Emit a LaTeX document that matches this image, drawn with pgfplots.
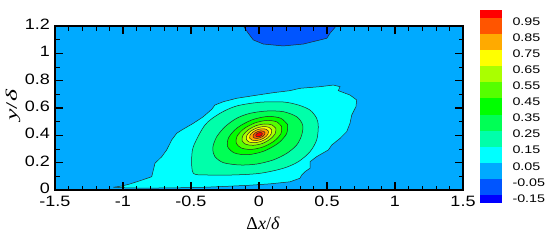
\documentclass[border=0pt]{standalone}
\usepackage{fontspec}
\setmainfont{Liberation Serif}
\newfontfamily\ylabfont[FakeStretch=1.6]{Liberation Serif}
\newfontfamily\ticksf[FakeStretch=1.2]{Liberation Sans}
\newfontfamily\cbsf[FakeStretch=1.3]{Liberation Sans}
\usepackage{pgfplots}
\pgfplotsset{compat=1.18}
\definecolor{cB0}{RGB}{0,0,255}
\definecolor{cB1}{RGB}{0,85,255}
\definecolor{cSky}{RGB}{0,170,255}
\definecolor{cCyan}{RGB}{0,255,255}
\definecolor{cAqua}{RGB}{0,255,170}
\definecolor{cG2}{RGB}{0,255,85}
\definecolor{cG}{RGB}{0,255,0}
\definecolor{cLime}{RGB}{85,255,0}
\definecolor{cYG}{RGB}{170,255,0}
\definecolor{cY}{RGB}{255,255,0}
\definecolor{cO}{RGB}{255,170,0}
\definecolor{cOR}{RGB}{255,85,0}
\definecolor{cR}{RGB}{255,0,0}
\tikzset{cl/.style={draw=black!85, line width=0.5bp}}
\begin{document}
\begin{tikzpicture}
\path[use as bounding box] (-55bp,-51bp) rectangle (495bp,190bp);
\begin{axis}[
  scale only axis, width=408bp, height=164bp,
  xmin=-1.5, xmax=1.5, ymin=0, ymax=1.2,
  xtick={-1.5,-1,-0.5,0,0.5,1,1.5}, ytick={0,0.2,0.4,0.6,0.8,1,1.2},
  minor x tick num=4, minor y tick num=1,
  tick align=inside,
  major tick length=8bp, minor tick length=4.5bp,
  every major tick/.append style={line width=1.2bp, black},
  every minor tick/.append style={line width=0.6bp, black},
  axis line style={line width=1.2bp},
  axis background/.style={fill=cSky},
  axis on top,
  /pgf/number format/assume math mode=true,
  ticklabel style={font=\ticksf\fontsize{15bp}{17bp}\selectfont, inner sep=2bp},
  xticklabel style={yshift=-3.5bp},
  yticklabel style={xshift=-3bp, yshift=1.5bp},
  xlabel={Δ\textit{x}/\textit{δ}}, ylabel={\textit{y}/\textit{δ}},
  xlabel style={font=\fontsize{18bp}{20bp}\selectfont, at={(axis description cs:0.51,-0.2)}, anchor=center},
  ylabel style={font=\ylabfont\fontsize{16bp}{18bp}\selectfont, at={(axis description cs:-0.103,0.518)}, anchor=center},
]
% -0.05 region at top
\addplot[fill=cB1, cl] coordinates {(-0.13,1.25) (-0.115,1.2) (-0.079,1.147) (-0.042,1.098) (0.032,1.068) (0.179,1.054) (0.326,1.068) (0.449,1.098) (0.498,1.110) (0.522,1.147) (0.559,1.190) (0.57,1.25)} -- cycle;
% 0.05 contour
\addplot[fill=cCyan, cl] coordinates {
(-1.071,0.020) (-1.010,0.029) (-0.949,0.044) (-0.875,0.068) (-0.789,0.097)
(-0.777,0.146) (-0.765,0.195) (-0.715,0.244) (-0.679,0.293) (-0.642,0.366)
(-0.605,0.415) (-0.568,0.439) (-0.483,0.488) (-0.410,0.536) (-0.348,0.590)
(-0.324,0.622) (-0.262,0.646) (-0.164,0.671) (-0.042,0.690) (0.105,0.712)
(0.228,0.727) (0.301,0.744) (0.449,0.756) (0.546,0.768) (0.596,0.756)
(0.583,0.727) (0.669,0.695) (0.718,0.659) (0.713,0.610) (0.682,0.549)
(0.669,0.488) (0.645,0.427) (0.596,0.378) (0.535,0.329) (0.510,0.293)
(0.424,0.244) (0.375,0.207) (0.375,0.159) (0.338,0.134) (0.314,0.110)
(0.301,0.086) (0.228,0.060) (0.081,0.045) (-0.066,0.035) (-0.213,0.028)
(-0.400,0.020) (-0.600,0.016) (-0.800,0.014) (-0.950,0.015) (-1.071,0.020)} -- cycle;
% 0.15 contour
\addplot[fill=cAqua, cl, smooth, tension=0.5] coordinates {
(-0.495,0.220) (-0.483,0.317) (-0.397,0.476) (-0.287,0.561) (-0.164,0.615)
(0.007,0.642) (0.179,0.644) (0.289,0.622) (0.375,0.585) (0.424,0.525)
(0.436,0.463) (0.424,0.366) (0.375,0.280) (0.289,0.207) (0.179,0.159)
(0.007,0.122) (-0.189,0.110) (-0.385,0.110) (-0.483,0.122) (-0.495,0.220)} -- cycle;
% 0.25 contour
\addplot[fill=cG2, cl, smooth, tension=0.5] coordinates {
(-0.336,0.329) (-0.311,0.390) (-0.250,0.463) (-0.164,0.525) (-0.066,0.561)
(0.057,0.578) (0.179,0.573) (0.277,0.536) (0.321,0.476) (0.314,0.402)
(0.277,0.329) (0.204,0.268) (0.105,0.220) (-0.017,0.190) (-0.140,0.183)
(-0.262,0.200) (-0.324,0.244) (-0.340,0.293) (-0.336,0.329)} -- cycle;
% 0.35
\addplot[fill=cG, cl, smooth] coordinates {
(0.211,0.478) (0.160,0.525) (0.064,0.538) (-0.052,0.513) (-0.157,0.457) (-0.222,0.386)
(-0.231,0.318) (-0.180,0.271) (-0.084,0.258) (0.032,0.283) (0.137,0.339) (0.202,0.410) (0.211,0.478)} -- cycle;
% 0.45
\addplot[fill=cLime, cl, smooth] coordinates {
(0.167,0.464) (0.129,0.499) (0.056,0.509) (-0.032,0.490) (-0.111,0.448) (-0.161,0.394)
(-0.167,0.342) (-0.129,0.307) (-0.056,0.297) (0.032,0.316) (0.111,0.358) (0.161,0.412) (0.167,0.464)} -- cycle;
% 0.55
\addplot[fill=cYG, cl, smooth] coordinates {
(0.124,0.450) (0.096,0.476) (0.042,0.483) (-0.023,0.470) (-0.082,0.438) (-0.119,0.398)
(-0.124,0.360) (-0.096,0.334) (-0.042,0.327) (0.023,0.340) (0.082,0.372) (0.119,0.412) (0.124,0.450)} -- cycle;
% 0.65
\addplot[fill=cY, cl, smooth] coordinates {
(0.093,0.439) (0.072,0.459) (0.031,0.464) (-0.018,0.453) (-0.062,0.430) (-0.089,0.400)
(-0.093,0.371) (-0.072,0.351) (-0.031,0.346) (0.018,0.357) (0.062,0.380) (0.089,0.410) (0.093,0.439)} -- cycle;
% 0.75
\addplot[fill=cO, cl, smooth] coordinates {
(0.069,0.430) (0.053,0.444) (0.023,0.448) (-0.013,0.441) (-0.046,0.423) (-0.066,0.401)
(-0.069,0.380) (-0.053,0.366) (-0.023,0.362) (0.013,0.369) (0.046,0.387) (0.066,0.409) (0.069,0.430)} -- cycle;
% 0.85
\addplot[fill=cOR, cl, smooth] coordinates {
(0.044,0.421) (0.034,0.430) (0.015,0.433) (-0.008,0.428) (-0.029,0.417) (-0.042,0.403)
(-0.044,0.389) (-0.034,0.380) (-0.015,0.377) (0.008,0.382) (0.029,0.393) (0.042,0.407) (0.044,0.421)} -- cycle;
% 0.95
\addplot[fill=cR, cl, smooth] coordinates {
(0.024,0.414) (0.019,0.419) (0.008,0.420) (-0.005,0.418) (-0.016,0.412) (-0.023,0.404)
(-0.024,0.396) (-0.019,0.391) (-0.008,0.390) (0.005,0.392) (0.016,0.398) (0.023,0.406) (0.024,0.414)} -- cycle;
\end{axis}
\begin{axis}[
  at={(425bp,-13bp)}, anchor=south west,
  scale only axis, width=22bp, height=193bp,
  xmin=0, xmax=1, ymin=-0.2, ymax=1.0,
  xtick=\empty,
  ytick={-0.15,-0.05,0.05,0.15,0.25,0.35,0.45,0.55,0.65,0.75,0.85,0.95},
  yticklabels={-0.15,-0.05,0.05,0.15,0.25,0.35,0.45,0.55,0.65,0.75,0.85,0.95},
  yticklabel pos=right,
  axis line style={draw=none}, tick style={draw=none}, major tick length=0pt,
  yticklabel style={font=\cbsf\fontsize{11bp}{13bp}\selectfont, anchor=west, xshift=7bp, yshift=-3.5bp},
]
\addplot[fill=cB0, draw=none] coordinates {(0,-0.2) (1,-0.2) (1,-0.15) (0,-0.15)} -- cycle;
\addplot[fill=cB1, draw=none] coordinates {(0,-0.15) (1,-0.15) (1,-0.05) (0,-0.05)} -- cycle;
\addplot[fill=cSky, draw=none] coordinates {(0,-0.05) (1,-0.05) (1,0.05) (0,0.05)} -- cycle;
\addplot[fill=cCyan, draw=none] coordinates {(0,0.05) (1,0.05) (1,0.15) (0,0.15)} -- cycle;
\addplot[fill=cAqua, draw=none] coordinates {(0,0.15) (1,0.15) (1,0.25) (0,0.25)} -- cycle;
\addplot[fill=cG2, draw=none] coordinates {(0,0.25) (1,0.25) (1,0.35) (0,0.35)} -- cycle;
\addplot[fill=cG, draw=none] coordinates {(0,0.35) (1,0.35) (1,0.45) (0,0.45)} -- cycle;
\addplot[fill=cLime, draw=none] coordinates {(0,0.45) (1,0.45) (1,0.55) (0,0.55)} -- cycle;
\addplot[fill=cYG, draw=none] coordinates {(0,0.55) (1,0.55) (1,0.65) (0,0.65)} -- cycle;
\addplot[fill=cY, draw=none] coordinates {(0,0.65) (1,0.65) (1,0.75) (0,0.75)} -- cycle;
\addplot[fill=cO, draw=none] coordinates {(0,0.75) (1,0.75) (1,0.85) (0,0.85)} -- cycle;
\addplot[fill=cOR, draw=none] coordinates {(0,0.85) (1,0.85) (1,0.95) (0,0.95)} -- cycle;
\addplot[fill=cR, draw=none] coordinates {(0,0.95) (1,0.95) (1,1.0) (0,1.0)} -- cycle;
\end{axis}
\end{tikzpicture}
\end{document}
